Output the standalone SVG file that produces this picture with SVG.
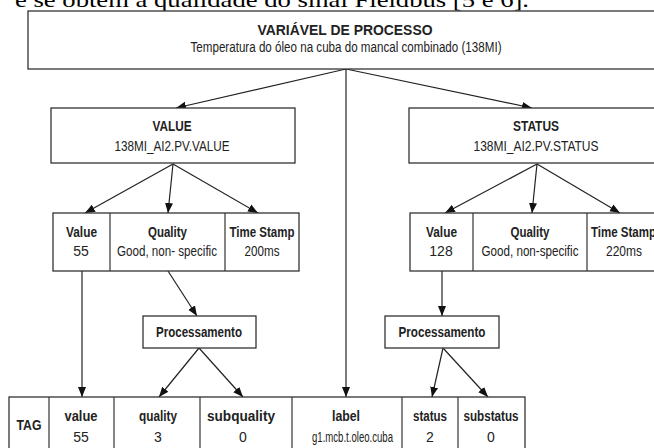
<svg xmlns="http://www.w3.org/2000/svg" width="654" height="448" viewBox="0 0 654 448">
<style>
.bx{fill:#fff;stroke:#333;stroke-width:1.3}
.dv{stroke:#333;stroke-width:1.2;fill:none}
.t{font-family:"Liberation Sans Narrow","Liberation Sans",Arial,sans-serif;font-size:14px;fill:#222;text-anchor:middle}
.b{font-weight:bold}
.c{stroke:#222;stroke-width:1.2;fill:none;marker-end:url(#ah)}
.top{font-family:"Liberation Serif","Times New Roman",serif;font-size:22px;fill:#000}
</style>
<defs>
<marker id="ah" markerUnits="userSpaceOnUse" markerWidth="10" markerHeight="10" viewBox="0 0 10 10" refX="10" refY="5" orient="auto">
<path d="M0,1 L10,5 L0,9 Z" fill="#111"/>
</marker>
</defs>
<rect width="654" height="448" fill="#fff"/>
<text class="top" x="15" y="7" textLength="514" lengthAdjust="spacingAndGlyphs">e se obtém a qualidade do sinal Fieldbus [5 e 6].</text>

<g id="connectors">
<line class="c" x1="346" y1="69" x2="176" y2="108"/>
<line class="c" x1="346" y1="69" x2="532" y2="108"/>
<line class="c" x1="346" y1="69" x2="346" y2="397"/>
<line class="c" x1="173" y1="164" x2="85" y2="213"/>
<line class="c" x1="173" y1="164" x2="168" y2="213"/>
<line class="c" x1="173" y1="164" x2="258" y2="213"/>
<line class="c" x1="537" y1="164" x2="445" y2="213"/>
<line class="c" x1="537" y1="164" x2="532" y2="213"/>
<line class="c" x1="537" y1="164" x2="620" y2="213"/>
<line class="c" x1="82" y1="271" x2="82" y2="397"/>
<line class="c" x1="168" y1="271" x2="197" y2="316"/>
<line class="c" x1="199" y1="348" x2="159" y2="397"/>
<line class="c" x1="199" y1="348" x2="243" y2="397"/>
<line class="c" x1="442" y1="271" x2="442" y2="316"/>
<line class="c" x1="443" y1="348" x2="432" y2="397"/>
<line class="c" x1="443" y1="348" x2="488" y2="397"/>
</g>

<g id="variavel">
<rect class="bx" x="28" y="11" width="660" height="58"/>
<text class="t b" x="345" y="34.5" textLength="175" lengthAdjust="spacingAndGlyphs">VARIÁVEL DE PROCESSO</text>
<text class="t" x="346" y="52" textLength="311" lengthAdjust="spacingAndGlyphs">Temperatura do óleo na cuba do mancal combinado (138MI)</text>
</g>

<g id="value">
<rect class="bx" x="51" y="108" width="244" height="55"/>
<text class="t b" x="172" y="131" textLength="39" lengthAdjust="spacingAndGlyphs">VALUE</text>
<text class="t" x="172" y="150.5" textLength="115" lengthAdjust="spacingAndGlyphs">138MI_AI2.PV.VALUE</text>
</g>

<g id="status">
<rect class="bx" x="409" y="108" width="270" height="55"/>
<text class="t b" x="536" y="131" textLength="46" lengthAdjust="spacingAndGlyphs">STATUS</text>
<text class="t" x="536" y="150.5" textLength="125" lengthAdjust="spacingAndGlyphs">138MI_AI2.PV.STATUS</text>
</g>

<g id="value-fields">
<rect class="bx" x="53" y="213" width="246" height="58"/>
<line class="dv" x1="110" y1="213" x2="110" y2="271"/>
<line class="dv" x1="225" y1="213" x2="225" y2="271"/>
<text class="t b" x="81.5" y="237" textLength="31" lengthAdjust="spacingAndGlyphs">Value</text>
<text class="t" x="81" y="256">55</text>
<text class="t b" x="167.5" y="237" textLength="39" lengthAdjust="spacingAndGlyphs">Quality</text>
<text class="t" x="167" y="256" textLength="100" lengthAdjust="spacingAndGlyphs">Good, non- specific</text>
<text class="t b" x="262" y="237" textLength="65" lengthAdjust="spacingAndGlyphs">Time Stamp</text>
<text class="t" x="262" y="256" textLength="35" lengthAdjust="spacingAndGlyphs">200ms</text>
</g>

<g id="status-fields">
<rect class="bx" x="410" y="213" width="270" height="58"/>
<line class="dv" x1="473" y1="213" x2="473" y2="271"/>
<line class="dv" x1="587" y1="213" x2="587" y2="271"/>
<text class="t b" x="441.5" y="237" textLength="31" lengthAdjust="spacingAndGlyphs">Value</text>
<text class="t" x="441" y="256">128</text>
<text class="t b" x="530" y="237" textLength="39" lengthAdjust="spacingAndGlyphs">Quality</text>
<text class="t" x="530" y="256" textLength="97" lengthAdjust="spacingAndGlyphs">Good, non-specific</text>
<text class="t b" x="623.5" y="237" textLength="65" lengthAdjust="spacingAndGlyphs">Time Stamp</text>
<text class="t" x="624" y="256" textLength="36" lengthAdjust="spacingAndGlyphs">220ms</text>
</g>

<g id="processamento-1">
<rect class="bx" x="143" y="316" width="113" height="32"/>
<text class="t b" x="199" y="337" textLength="86" lengthAdjust="spacingAndGlyphs">Processamento</text>
</g>

<g id="processamento-2">
<rect class="bx" x="385" y="316" width="114" height="32"/>
<text class="t b" x="442" y="337" textLength="87" lengthAdjust="spacingAndGlyphs">Processamento</text>
</g>

<g id="tag-record">
<rect class="bx" x="9" y="397" width="516" height="70"/>
<line class="dv" x1="49" y1="397" x2="49" y2="448"/>
<line class="dv" x1="114" y1="397" x2="114" y2="448"/>
<line class="dv" x1="200" y1="397" x2="200" y2="448"/>
<line class="dv" x1="292" y1="397" x2="292" y2="448"/>
<line class="dv" x1="402" y1="397" x2="402" y2="448"/>
<line class="dv" x1="458" y1="397" x2="458" y2="448"/>
<text class="t b" x="29" y="430" textLength="25" lengthAdjust="spacingAndGlyphs">TAG</text>
<text class="t b" x="81" y="421" textLength="33" lengthAdjust="spacingAndGlyphs">value</text>
<text class="t" x="81" y="442">55</text>
<text class="t b" x="158" y="421" textLength="38" lengthAdjust="spacingAndGlyphs">quality</text>
<text class="t" x="158" y="442">3</text>
<text class="t b" x="241" y="421" textLength="68" lengthAdjust="spacingAndGlyphs">subquality</text>
<text class="t" x="243" y="442">0</text>
<text class="t b" x="346" y="421" textLength="28" lengthAdjust="spacingAndGlyphs">label</text>
<text class="t" x="352.5" y="442" textLength="81" lengthAdjust="spacingAndGlyphs">g1.mcb.t.oleo.cuba</text>
<text class="t b" x="430" y="421" textLength="34" lengthAdjust="spacingAndGlyphs">status</text>
<text class="t" x="430" y="442">2</text>
<text class="t b" x="491" y="421" textLength="55" lengthAdjust="spacingAndGlyphs">substatus</text>
<text class="t" x="491" y="442">0</text>
</g>
</svg>
